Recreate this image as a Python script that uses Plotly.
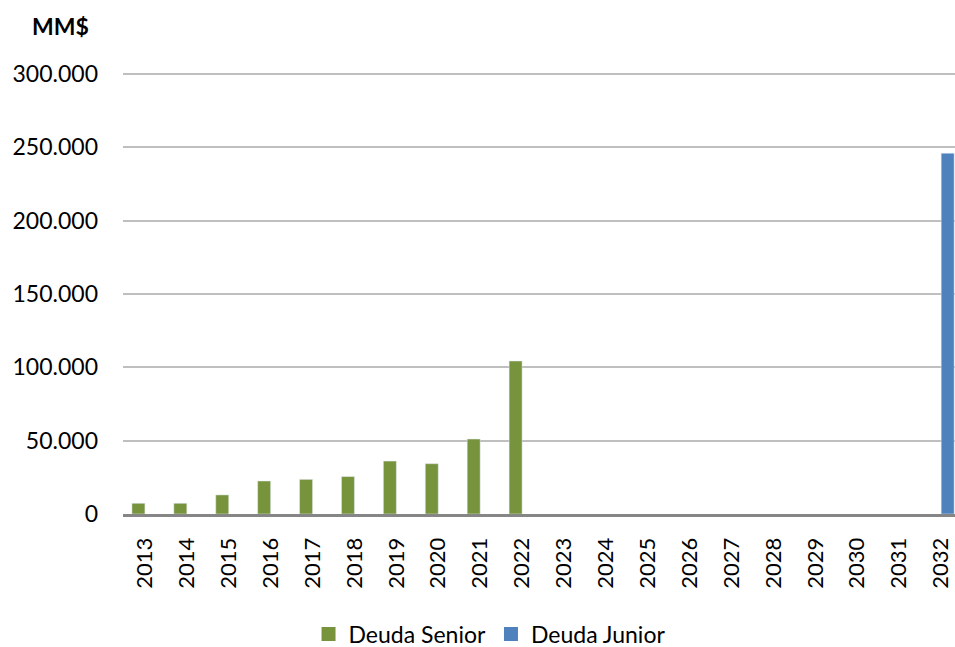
import plotly.graph_objects as go

years = [str(y) for y in range(2013, 2033)]
senior = [7300, 7300, 13000, 22500, 23600, 25500, 36100, 34300, 51100, 104300,
          None, None, None, None, None, None, None, None, None, None]
junior = [None] * 19 + [246000]

FONT = "Lato"
GREEN = "#77933c"
BLUE = "#4f81bd"

fig = go.Figure()
fig.add_trace(go.Bar(x=years, y=senior, name="Deuda Senior", marker_color=GREEN,
                     showlegend=False, legendgroup="s"))
fig.add_trace(go.Bar(x=years, y=junior, name="Deuda Junior", marker_color=BLUE,
                     showlegend=False, legendgroup="j"))
# legend entries with larger square swatches
fig.add_trace(go.Scatter(x=[None], y=[None], mode="markers", name="Deuda Senior",
                         marker=dict(symbol="square", size=14, color=GREEN), legendgroup="s"))
fig.add_trace(go.Scatter(x=[None], y=[None], mode="markers", name="Deuda Junior",
                         marker=dict(symbol="square", size=14, color=BLUE), legendgroup="j"))

fig.update_layout(
    width=955, height=647,
    margin=dict(l=123, r=0, t=71, b=133, autoexpand=False),
    paper_bgcolor="white", plot_bgcolor="white",
    barmode="group", bargap=0.38, bargroupgap=0,
    separators=",.",
    font=dict(family=FONT, size=22, color="#000000"),
    showlegend=True,
    legend=dict(orientation="h", x=0.5126, xanchor="center", xref="container",
                y=0.02, yanchor="middle", yref="container",
                font=dict(family=FONT, size=23), itemwidth=30),
    annotations=[dict(text="<b>MM$</b>", x=-0.075, y=1.102, xref="paper", yref="paper",
                      xanchor="center", yanchor="middle",
                      showarrow=False, font=dict(family=FONT, size=23))],
)

fig.update_xaxes(type="category", range=[-0.523, 19.33], tickangle=-90,
                 showline=True, linecolor="#868686", linewidth=3,
                 ticks="", showgrid=False, tickfont=dict(family=FONT, size=22),
                 ticklabelstandoff=12, automargin=False)
fig.update_yaxes(range=[0, 302000], tickvals=[0, 50000, 100000, 150000, 200000, 250000, 300000],
                 tickformat=",.0f",
                 showgrid=True, gridcolor="#bfbfbf", gridwidth=1.5,
                 zeroline=False, showline=False, ticks="",
                 tickfont=dict(family=FONT, size=23), ticklabelstandoff=24,
                 automargin=False)

fig.write_html("out.html")
